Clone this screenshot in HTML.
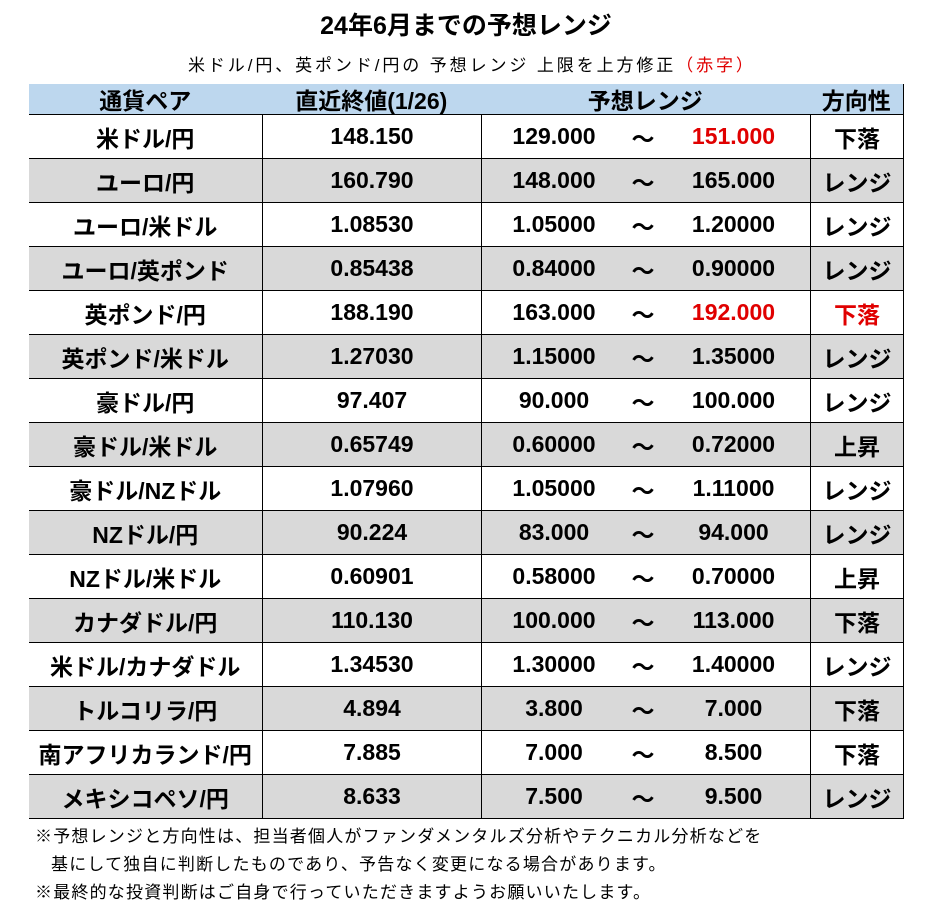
<!DOCTYPE html>
<html><head><meta charset="utf-8">
<style>
*{margin:0;padding:0;box-sizing:border-box}
body{width:932px;height:903px;background:#fff;font-family:"Liberation Sans","Noto Sans CJK JP",sans-serif;position:relative;overflow:hidden;color:#000}
.t{position:absolute;white-space:nowrap}
.c{position:absolute;display:flex;align-items:center;justify-content:center;font-weight:bold;font-size:23px;border-right:1.5px solid #000;border-bottom:1.5px solid #000}
.red{color:#e00000}
</style></head><body>
<div class="t" style="left:0;width:932px;top:6px;text-align:center;font-size:25px;font-weight:bold">24年6月までの予想レンジ</div>
<div class="t" style="left:188px;top:51px;font-size:17px;letter-spacing:2.9px">米ドル/円、英ポンド/円の 予想レンジ 上限を上方修正<span class="red">（赤字）</span></div>
<div id="tbl" style="position:absolute;left:29px;top:84px;width:874px;height:735px;border-left:1.5px solid #000;border-top:1.5px solid #000"></div>
<div class="t" style="left:35px;top:822px;font-size:17px;letter-spacing:1.2px">※予想レンジと方向性は、担当者個人がファンダメンタルズ分析やテクニカル分析などを</div>
<div class="t" style="left:51px;top:850px;font-size:17px;letter-spacing:1.2px">基にして独自に判断したものであり、予告なく変更になる場合があります。</div>
<div class="t" style="left:35px;top:878px;font-size:17px;letter-spacing:1.2px">※最終的な投資判断はご自身で行っていただきますようお願いいたします。</div>
<script>
const pairs=["米ドル/円","ユーロ/円","ユーロ/米ドル","ユーロ/英ポンド","英ポンド/円","英ポンド/米ドル","豪ドル/円","豪ドル/米ドル","豪ドル/NZドル","NZドル/円","NZドル/米ドル","カナダドル/円","米ドル/カナダドル","トルコリラ/円","南アフリカランド/円","メキシコペソ/円"];
const lasts=["148.150","160.790","1.08530","0.85438","188.190","1.27030","97.407","0.65749","1.07960","90.224","0.60901","110.130","1.34530","4.894","7.885","8.633"];
const lows=["129.000","148.000","1.05000","0.84000","163.000","1.15000","90.000","0.60000","1.05000","83.000","0.58000","100.000","1.30000","3.800","7.000","7.500"];
const highs=["151.000","165.000","1.20000","0.90000","192.000","1.35000","100.000","0.72000","1.11000","94.000","0.70000","113.000","1.40000","7.000","8.500","9.500"];
const dirs=["下落","レンジ","レンジ","レンジ","下落","レンジ","レンジ","上昇","レンジ","レンジ","上昇","下落","レンジ","下落","下落","レンジ"];
const redHigh=[0,4];const redDir=[4];
const tbl=document.getElementById('tbl');
const cols=[0,233,452,781,874];
function cell(x,y,w,h,txt,bg,name){const d=document.createElement('div');d.className='c';
d.style.left=x+'px';d.style.top=y+'px';d.style.width=w+'px';d.style.height=h+'px';if(bg)d.style.background=bg;d.innerHTML=txt;


tbl.appendChild(d);return d;}
const hb='#bdd7ee';const hh=30;
const heads=["通貨ペア","直近終値(1/26)","予想レンジ","方向性"];
heads.forEach((h,i)=>cell(cols[i]-1.5,-1.5,cols[i+1]-cols[i]+1.5,hh+1.5,h,hb,'header-cell'));
pairs.forEach((p,r)=>{const y=hh+r*44;const bg=r%2?'#d9d9d9':'#fff';
cell(cols[0]-1.5,y,cols[1]-cols[0]+1.5,44,p,bg,'pair-cell');
cell(cols[1],y,cols[2]-cols[1],44,lasts[r],bg,'last-value-cell');
const rc=cell(cols[2],y,cols[3]-cols[2],44,'',bg,'range-cell');rc.style.justifyContent='flex-start';
const hc=redHigh.includes(r)?' red':'';
rc.innerHTML='<span style="position:absolute;left:0;width:144px;text-align:center">'+lows[r]+'</span><span style="position:absolute;left:146px;width:30px;text-align:center">～</span><span style="position:absolute;left:180px;width:143px;text-align:center" class="'+hc+'">'+highs[r]+'</span>';
const dc=cell(cols[3],y,cols[4]-cols[3],44,dirs[r],bg,'direction-cell');if(redDir.includes(r))dc.classList.add('red');
});
</script>
</body></html>
